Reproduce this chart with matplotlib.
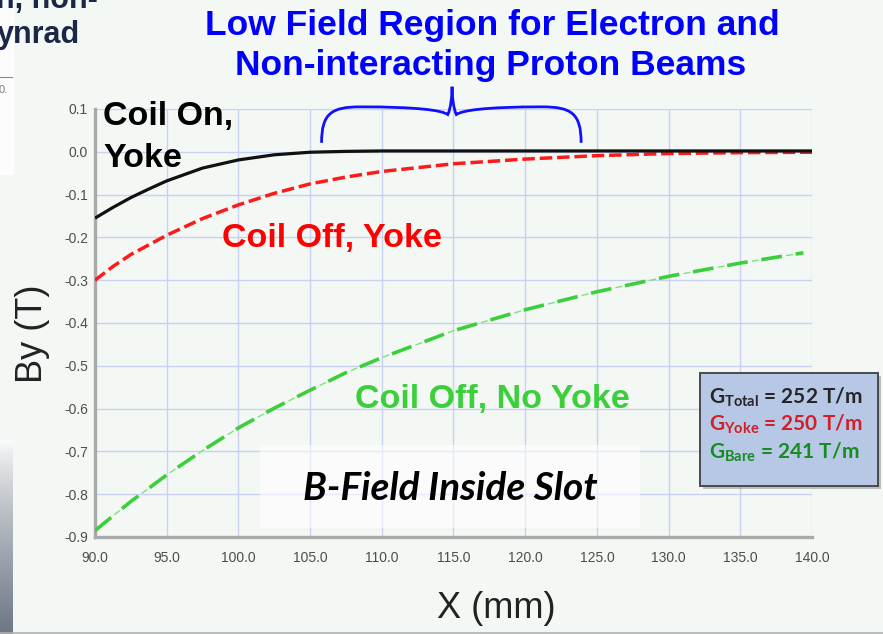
import numpy as np
import matplotlib
matplotlib.use("Agg")
import matplotlib.pyplot as plt
from matplotlib.patches import Rectangle, PathPatch
from matplotlib.path import Path
from matplotlib.lines import Line2D

plt.rcParams['font.family'] = ['Liberation Sans', 'DejaVu Sans']
plt.rcParams['axes.unicode_minus'] = False

### data ###
x_on = [90, 91.25, 92.5, 93.75, 95, 97.5, 100, 102.5, 105, 107.5, 110, 115, 120, 125, 130, 135, 140]
by_on = [-0.155, -0.130, -0.107, -0.087, -0.068, -0.038, -0.019, -0.007, -0.001, 0.001, 0.002,
         0.002, 0.002, 0.002, 0.002, 0.002, 0.002]

x_yoke = [90, 91.25, 92.5, 95, 97.5, 100, 102.5, 105, 107.5, 110, 115, 120, 125, 130, 135, 140]
by_yoke = [-0.300, -0.268, -0.240, -0.195, -0.156, -0.124, -0.097, -0.075, -0.059, -0.046,
           -0.028, -0.017, -0.009, -0.004, -0.002, -0.001]

x_bare = [90, 92.5, 95, 97.5, 100, 102.5, 105, 107.5, 110, 115, 120, 125, 130, 135, 139.4]
by_bare = [-0.885, -0.817, -0.755, -0.698, -0.645, -0.599, -0.557, -0.516, -0.481, -0.418,
           -0.369, -0.327, -0.291, -0.260, -0.236]

x_ticks = [90, 95, 100, 105, 110, 115, 120, 125, 130, 135, 140]
y_ticks = [-0.9, -0.8, -0.7, -0.6, -0.5, -0.4, -0.3, -0.2, -0.1, 0.0, 0.1]

gradients = ['G$_{\\mathregular{Total}}$ = 252 T/m',
             'G$_{\\mathregular{Yoke}}$ = 250 T/m',
             'G$_{\\mathregular{Bare}}$ = 241 T/m']
grad_colors = ['#262626', '#d0202a', '#178c22']

W, H = 883, 634
bg = '#f4f8f5'

def px(x, y):
    return x / W, 1 - y / H

fig = plt.figure(figsize=(W / 100, H / 100), dpi=100, facecolor=bg)
ax = fig.add_axes([95 / W, (H - 537) / H, (812 - 95) / W, (537 - 109) / H], facecolor=bg)

### curves ###
ax.plot(x_on, by_on, color='#111111', lw=2.3, solid_capstyle='butt', zorder=4)
ax.plot(x_yoke, by_yoke, color='#ff1a1a', lw=2.5, linestyle=(0, (3.6, 1.4)), zorder=3)
ax.plot(x_bare, by_bare, color='#3ccf3c', lw=2.6, linestyle=(0, (15 / 2.6, 10 / 2.6)), zorder=3)
ax.plot(x_bare, by_bare, color='#7fe07f', lw=1.0, linestyle=(7.0, (5, 20)), zorder=3)

ax.set_xlim(90, 140)
ax.set_ylim(-0.9, 0.1)
ax.set_xticks(x_ticks)
ax.set_yticks(y_ticks)
ax.set_xticklabels(['%.1f' % v for v in x_ticks])
ax.set_yticklabels(['%.1f' % v for v in y_ticks])
ax.grid(True, color='#c9d1f2', lw=1.0)
ax.set_axisbelow(True)
for s in ['top', 'right']:
    ax.spines[s].set_visible(False)
for s in ['left', 'bottom']:
    ax.spines[s].set_color('#a9a9a9')
    ax.spines[s].set_linewidth(2.4)
ax.tick_params(length=0, labelsize=10, labelcolor='#4d4d4d')
ax.tick_params(axis='x', pad=10)
ax.tick_params(axis='y', pad=5)

### brace over the low field region ###
verts = [(105.8, 0.021), (105.8, 0.09), (106.5, 0.105), (108.5, 0.105),
         (112.5, 0.105), (114.2, 0.097), (114.6, 0.087),
         (114.8, 0.10), (114.9, 0.13), (114.9, 0.152),
         (114.9, 0.13), (115.0, 0.10), (115.2, 0.087),
         (115.6, 0.097), (117.3, 0.105), (121.2, 0.105),
         (123.2, 0.105), (123.9, 0.09), (123.9, 0.021)]
codes = [Path.MOVETO] + [Path.CURVE4] * 18
ax.add_patch(PathPatch(Path(verts, codes), fill=False, edgecolor='#1010ff', lw=2.0,
                       clip_on=False, zorder=5))

### labels ###
bold = dict(fontweight='bold', fontsize=24.5, va='baseline', ha='left')
fig.text(*px(492, 35), 'Low Field Region for Electron and', color='#0000ff',
         fontsize=25.5, fontweight='bold', ha='center', va='baseline')
fig.text(*px(491, 75), 'Non-interacting Proton Beams', color='#0000ff',
         fontsize=25.5, fontweight='bold', ha='center', va='baseline')
fig.text(*px(103, 125), 'Coil On,', color='#000000', **bold)
fig.text(*px(103, 167), 'Yoke', color='#000000', **bold)
fig.text(*px(222, 247), 'Coil Off, Yoke', color='#ff0000', **bold)
fig.text(*px(355, 408), 'Coil Off, No Yoke', color='#3ccf3c', **bold)

fig.patches.append(Rectangle(px(260, 528), 380 / W, 83 / H, transform=fig.transFigure,
                             facecolor='white', alpha=0.55, edgecolor='none', zorder=1))
fig.text(*px(450, 500), 'B-Field Inside Slot', color='#000000', fontsize=28,
         fontweight='bold', style='italic', family=['Lato', 'DejaVu Sans'],
         ha='center', va='baseline')

fig.text(*px(33, 334), 'By (T)', fontsize=26, color='#222222', rotation=90,
         ha='center', va='center')
fig.text(*px(496, 618), 'X (mm)', fontsize=26, color='#222222', ha='center', va='baseline')

### gradient box ###
fig.patches.append(Rectangle(px(703, 489), 178 / W, 113 / H, transform=fig.transFigure,
                             facecolor='#7a7a7a', alpha=0.45, edgecolor='none', zorder=1))
fig.patches.append(Rectangle(px(700, 486), 178 / W, 113 / H, transform=fig.transFigure,
                             facecolor='#b7c8e6', edgecolor='#4a4a4a', lw=1.4, zorder=1))
for i, (t, c) in enumerate(zip(gradients, grad_colors)):
    fig.text(*px(709, 403 + 27.5 * i), t, color=c, fontsize=15, fontweight='bold',
             family=['Lato', 'DejaVu Sans'], ha='left', va='baseline')

### bits of the neighbouring slide ###
fig.patches.append(Rectangle(px(0, 175), 14 / W, 175 / H, transform=fig.transFigure,
                             facecolor='#fcfcfc', edgecolor='none', zorder=0))
fig.text(*px(-4, 8), 'n, non-', color='#1a2748', fontsize=22, fontweight='bold',
         ha='left', va='baseline')
fig.text(*px(-3, 43), 'ynrad', color='#1a2748', fontsize=22, fontweight='bold',
         ha='left', va='baseline')
fig.lines.append(Line2D([0, 12 / W], [1 - 77 / H] * 2, transform=fig.transFigure,
                        color='#888888', lw=0.8))
fig.text(*px(-1, 93), '0.', color='#777777', fontsize=8, ha='left', va='baseline')

strip = fig.add_axes([0, 0, 13 / W, (H - 440) / H])
shade = np.linspace(0, 1, 100)[:, None] ** 0.8
strip.imshow(shade, aspect='auto', cmap=matplotlib.colors.LinearSegmentedColormap.from_list(
    'edge', ['#fbfbfb', '#6e7886']))
strip.axis('off')

fig.lines.append(Line2D([0, 1], [1 - 632.5 / H] * 2, transform=fig.transFigure,
                        color='#b0b0b0', lw=1.2))

plt.savefig('out.png', dpi=100, facecolor=bg)
